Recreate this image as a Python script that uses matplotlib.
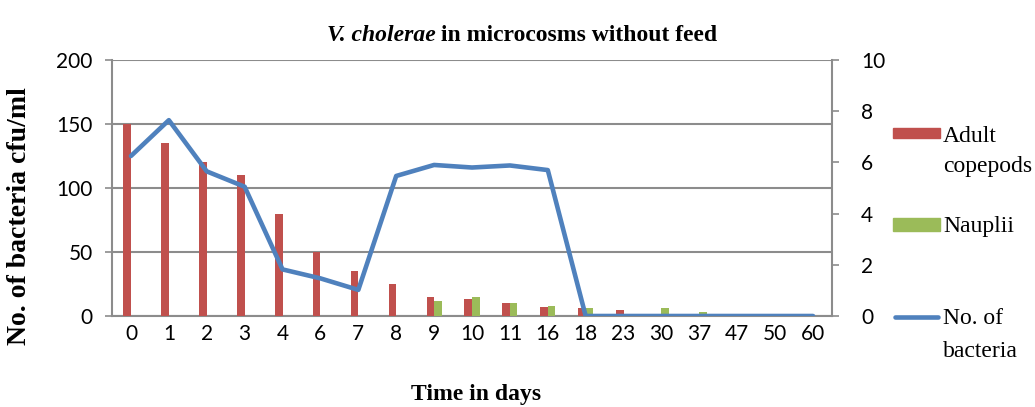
import numpy as np
from matplotlib import pyplot as plt
from matplotlib.lines import Line2D
from matplotlib.patches import Rectangle

days = ['0', '1', '2', '3', '4', '6', '7', '8', '9', '10', '11', '16', '18',
        '23', '30', '37', '47', '50', '60']
adult = [150, 135, 120, 110, 80, 50, 35, 25, 15, 13, 10, 7, 6, 5, 1, 1, 0, 0, 0]
nauplii = [0, 0, 0, 0, 0, 0, 0, 0, 12, 15, 10, 8, 6, 0, 6, 3.5, 0, 0, 0]
bacteria = [6.25, 7.65, 5.65, 5.05, 1.82, 1.47, 1.02, 5.47, 5.9, 5.8, 5.88, 5.7,
            0, 0, 0, 0, 0, 0, 0]

red = '#C0504D'
green = '#9BBB59'
blue = '#4F81BD'
gridc = '#8C8C8C'
serif = 'Liberation Serif'
sans = 'Lato'

W, H = 1035, 407
fx = lambda px: px / W
fy = lambda py: 1 - py / H

fig = plt.figure(figsize=(W / 100, H / 100), dpi=100)
ax = fig.add_axes([fx(112), fy(316), 720 / W, 256 / H])
x = np.arange(len(days))
w = 0.2
ax.bar(x - w / 2, adult, width=w, color=red, zorder=3)
ax.bar(x + w / 2, nauplii, width=w, color=green, zorder=3)
ax.set_xlim(-0.5, len(days) - 0.5)
ax.set_ylim(0, 200)
ax.set_yticks(range(0, 201, 50))
ax.yaxis.grid(True, color=gridc, linewidth=1.5, zorder=0)
ax.set_axisbelow(True)
ax.set_xticks(x)
ax.set_xticklabels(days)
for s in ['left', 'bottom']:
    ax.spines[s].set_color(gridc)
    ax.spines[s].set_linewidth(1.5)
ax.spines['top'].set_visible(False)
ax.spines['right'].set_visible(False)
ax.tick_params(axis='x', length=0, pad=6)
ax.tick_params(axis='y', color=gridc, length=5, width=1.2, pad=9)
for lab in ax.get_xticklabels() + ax.get_yticklabels():
    lab.set_fontfamily(sans)
    lab.set_fontsize(15)

ax2 = ax.twinx()
ax2.plot(x, bacteria, color=blue, linewidth=3.3, solid_capstyle='round', zorder=4)
ax2.set_ylim(0, 10)
ax2.set_yticks(range(0, 11, 2))
for s in ['left', 'bottom', 'top']:
    ax2.spines[s].set_visible(False)
ax2.spines['right'].set_color(gridc)
ax2.spines['right'].set_linewidth(1.5)
ax2.tick_params(axis='y', color=gridc, length=5, width=1.2, pad=16)
for lab in ax2.get_yticklabels():
    lab.set_fontfamily(sans)
    lab.set_fontsize(15)

fig.text(fx(476), fy(400), 'Time in days', family=serif, fontsize=17,
         fontweight='bold', ha='center', va='baseline')
fig.text(fx(20), fy(216), 'No. of bacteria cfu/ml', family=serif, fontsize=20,
         fontweight='bold', rotation=90, ha='center', va='center')

# title: italic species name followed by bold upright text, centred on x=522
t1 = fig.text(0, fy(41), 'V. cholerae', family=serif, fontsize=17, fontweight='bold',
              fontstyle='italic', ha='left', va='baseline')
t2 = fig.text(0, fy(41), ' in microcosms without feed', family=serif, fontsize=17,
              fontweight='bold', ha='left', va='baseline')
r = fig.canvas.get_renderer()
w1 = t1.get_window_extent(r).width
w2 = t2.get_window_extent(r).width
x0 = 522 - (w1 + w2) / 2
t1.set_x(fx(x0))
t2.set_x(fx(x0 + w1))

# legend drawn by hand to keep handles level with the first text line
fig.add_artist(Rectangle((fx(893), fy(138)), 47 / W, 10 / H, color=red,
                         transform=fig.transFigure))
fig.add_artist(Rectangle((fx(893), fy(231)), 47 / W, 13 / H, color=green,
                         transform=fig.transFigure))
fig.add_artist(Line2D([fx(895), fx(938)], [fy(317), fy(317)], color=blue,
                      linewidth=3.3, solid_capstyle='round', transform=fig.transFigure))
leg_style = dict(family=serif, fontsize=17, va='baseline', ha='left')
for txt, base in [('Adult', 142), ('copepods', 172), ('Nauplii', 232),
                  ('No. of', 324), ('bacteria', 357)]:
    fig.text(fx(943), fy(base), txt, **leg_style)

fig.savefig('out.png', dpi=100)
